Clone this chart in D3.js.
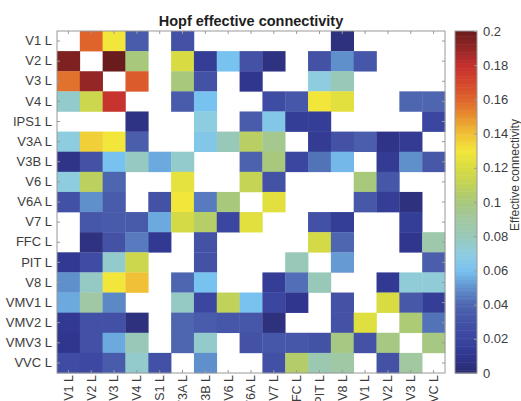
<!DOCTYPE html>
<html>
<head>
<meta charset="utf-8">
<script src="https://cdn.jsdelivr.net/npm/d3@7"></script>
<style>
  body { margin: 0; background: #fff; }
  text { font-family: "Liberation Sans", Arial, Helvetica, sans-serif; }
</style>
</head>
<body>
<div id="chart"></div>
<script>
///////////// data //////////////
var regions = ['V1 L', 'V2 L', 'V3 L', 'V4 L', 'IPS1 L', 'V3A L', 'V3B L', 'V6 L', 'V6A L',
  'V7 L', 'FFC L', 'PIT L', 'V8 L', 'VMV1 L', 'VMV2 L', 'VMV3 L', 'VVC L'];

// effective connectivity, rows = target, cols = source (null = no link)
var conn = [
  [null, 0.16, 0.13, 0.035, null, 0.03, null, null, null, null, null, null, 0.005, null, null, null, null],
  [0.195, null, 0.2, 0.1, null, 0.12, 0.015, 0.06, 0.03, 0.006, null, 0.03, 0.05, 0.032, null, null, null],
  [0.157, 0.19, null, 0.163, null, 0.1, 0.03, null, 0.01, null, null, 0.07, 0.08, null, null, null, null],
  [0.075, 0.115, 0.178, null, null, 0.035, 0.06, null, null, 0.025, 0.032, 0.13, 0.124, null, null, 0.04, 0.04],
  [null, null, null, 0.007, null, null, 0.07, null, 0.035, 0.065, 0.015, 0.015, null, null, null, null, 0.02],
  [0.07, 0.136, 0.13, 0.036, null, null, 0.065, 0.08, 0.107, 0.095, null, 0.013, 0.03, 0.036, 0.008, 0.013, null],
  [0.008, 0.03, 0.06, 0.078, 0.055, 0.075, null, null, 0.038, 0.1, 0.02, 0.043, 0.058, null, 0.013, 0.05, 0.033],
  [0.07, 0.108, 0.04, null, null, 0.125, null, null, 0.112, 0.03, null, null, null, 0.1, 0.032, null, null],
  [0.028, 0.05, 0.035, null, 0.03, 0.13, 0.045, 0.1, null, 0.124, null, null, null, 0.033, 0.015, 0.005, null],
  [null, 0.032, 0.034, 0.034, 0.055, 0.118, 0.106, 0.02, 0.124, null, null, 0.028, 0.015, null, null, 0.015, null],
  [null, 0.006, 0.03, 0.045, 0.012, null, 0.03, null, null, null, null, 0.118, 0.04, null, null, 0.01, 0.085],
  [0.012, 0.025, 0.075, 0.115, null, null, 0.03, null, null, null, 0.08, null, 0.052, null, null, null, 0.036],
  [0.05, 0.077, 0.13, 0.14, null, 0.04, 0.06, null, null, 0.015, 0.042, 0.08, null, null, 0.012, 0.072, 0.072],
  [0.055, 0.088, 0.048, null, null, 0.077, 0.02, 0.11, 0.06, 0.02, 0.01, null, 0.03, null, 0.12, 0.033, 0.015],
  [0.012, 0.028, 0.028, 0.005, null, 0.04, 0.035, 0.032, 0.032, 0.005, null, null, 0.03, 0.123, null, 0.102, 0.043],
  [0.01, 0.028, 0.055, 0.08, null, 0.04, 0.075, null, 0.03, 0.032, 0.032, 0.03, 0.098, 0.03, 0.098, null, 0.098],
  [0.025, 0.022, 0.035, 0.075, 0.028, null, 0.05, null, null, 0.028, 0.105, 0.083, 0.088, null, 0.03, 0.09, null]
];

var cbar_ticks = [0, 0.02, 0.04, 0.06, 0.08, 0.1, 0.12, 0.14, 0.16, 0.18, 0.2];
var title_text = 'Hopf effective connectivity';
var cbar_label = 'Effective connectivity';

///////////// layout //////////////
const svg_width = 521, svg_height = 401;
const plot_left = 57, plot_right = 445, plot_top = 31, plot_bottom = 373;
const cb_x = 455, cb_w = 22;
const axis_color = '#9a9a9a';
const label_color = '#3c3c3c';

var svg = d3.select('#chart').append('svg')
  .attr('width', svg_width)
  .attr('height', svg_height);

var x = d3.scaleBand().domain(regions).range([plot_left, plot_right]);
var y = d3.scaleBand().domain(regions).range([plot_top, plot_bottom]);

// colour map stops (jet-like, navy -> blue -> cyan -> yellow -> red)
var color = d3.scaleLinear()
  .domain([0, 0.01, 0.02, 0.03, 0.04, 0.05, 0.06, 0.07, 0.08, 0.09, 0.1, 0.11, 0.12, 0.13, 0.14, 0.15, 0.16, 0.17, 0.18, 0.19, 0.2])
  .range(['#2a2c6e', '#30368e', '#3a46a0', '#4452a6', '#4e66b0', '#6090cc', '#78c2f0', '#8ecce0', '#98c8b8',
          '#a2c8a0', '#a8c87c', '#c0d258', '#d8dc42', '#f2e63a', '#f0c036', '#e8922e', '#de642c', '#d4462c',
          '#c4302e', '#942626', '#6a1c1c'])
  .clamp(true);

// cells
var cells = [];
conn.forEach(function(row, i){
  row.forEach(function(v, j){
    if (v !== null) cells.push({ target: regions[i], source: regions[j], value: v });
  });
});

svg.append('g').selectAll('rect')
  .data(cells)
  .enter().append('rect')
  .attr('x', d => x(d.source))
  .attr('y', d => y(d.target))
  .attr('width', x.bandwidth() + 0.3)
  .attr('height', y.bandwidth() + 0.3)
  .attr('fill', d => color(d.value));

// axes (MATLAB-style box with inward ticks)
var tick_len = 3;
var gx_bottom = svg.append('g')
  .attr('transform', `translate(0,${plot_bottom})`)
  .call(d3.axisBottom(x).tickSizeInner(-tick_len).tickSizeOuter(0).tickPadding(5));
var gx_top = svg.append('g')
  .attr('transform', `translate(0,${plot_top})`)
  .call(d3.axisTop(x).tickSizeInner(-tick_len).tickSizeOuter(0).tickFormat(''));
var gy_left = svg.append('g')
  .attr('transform', `translate(${plot_left},0)`)
  .call(d3.axisLeft(y).tickSizeInner(-tick_len).tickSizeOuter(0).tickPadding(5));
var gy_right = svg.append('g')
  .attr('transform', `translate(${plot_right},0)`)
  .call(d3.axisRight(y).tickSizeInner(-tick_len).tickSizeOuter(0).tickFormat(''));

[gx_bottom, gx_top, gy_left, gy_right].forEach(function(g){
  g.select('.domain').remove();
  g.selectAll('line').attr('stroke', axis_color);
});

gy_left.selectAll('text')
  .attr('font-size', 13)
  .attr('fill', label_color)
  .attr('x', -5);

// rotated source labels; the page edge trims the longer ones, as in the original figure
gx_bottom.selectAll('text')
  .attr('font-size', 12.5)
  .attr('fill', label_color)
  .attr('transform', 'rotate(-90)')
  .attr('text-anchor', 'end')
  .attr('x', -2)
  .attr('y', 0)
  .attr('dy', '0.35em');

svg.append('rect')
  .attr('x', plot_left).attr('y', plot_top)
  .attr('width', plot_right - plot_left).attr('height', plot_bottom - plot_top)
  .attr('fill', 'none')
  .attr('stroke', axis_color)
  .attr('stroke-width', 1);

// title
svg.append('text')
  .attr('x', (plot_left + plot_right) / 2)
  .attr('y', 26)
  .attr('text-anchor', 'middle')
  .attr('font-size', 14.5)
  .attr('font-weight', 'bold')
  .attr('fill', '#1e1e1e')
  .text(title_text);

///////////// colour bar //////////////
var cb_scale = d3.scaleLinear().domain([0, 0.2]).range([plot_bottom, plot_top]);
var steps = d3.range(0, 128);
var step_h = (plot_bottom - plot_top) / steps.length;
svg.append('g').selectAll('rect')
  .data(steps)
  .enter().append('rect')
  .attr('x', cb_x)
  .attr('y', d => plot_bottom - (d + 1) * step_h)
  .attr('width', cb_w)
  .attr('height', step_h + 0.5)
  .attr('fill', d => color((d + 0.5) / steps.length * 0.2));

var gcb = svg.append('g')
  .attr('transform', `translate(${cb_x + cb_w},0)`)
  .call(d3.axisRight(cb_scale).tickValues(cbar_ticks).tickSizeInner(-tick_len).tickSizeOuter(0)
    .tickPadding(6).tickFormat(d => d3.format('~g')(d)));
gcb.select('.domain').remove();
gcb.selectAll('line').attr('stroke', axis_color);
gcb.selectAll('text')
  .attr('font-size', 13)
  .attr('fill', label_color);

svg.append('rect')
  .attr('x', cb_x).attr('y', plot_top)
  .attr('width', cb_w).attr('height', plot_bottom - plot_top)
  .attr('fill', 'none')
  .attr('stroke', axis_color);

svg.append('text')
  .attr('transform', `translate(519,175) rotate(-90)`)
  .attr('text-anchor', 'middle')
  .attr('font-size', 12)
  .attr('fill', label_color)
  .text(cbar_label);
</script>
</body>
</html>
